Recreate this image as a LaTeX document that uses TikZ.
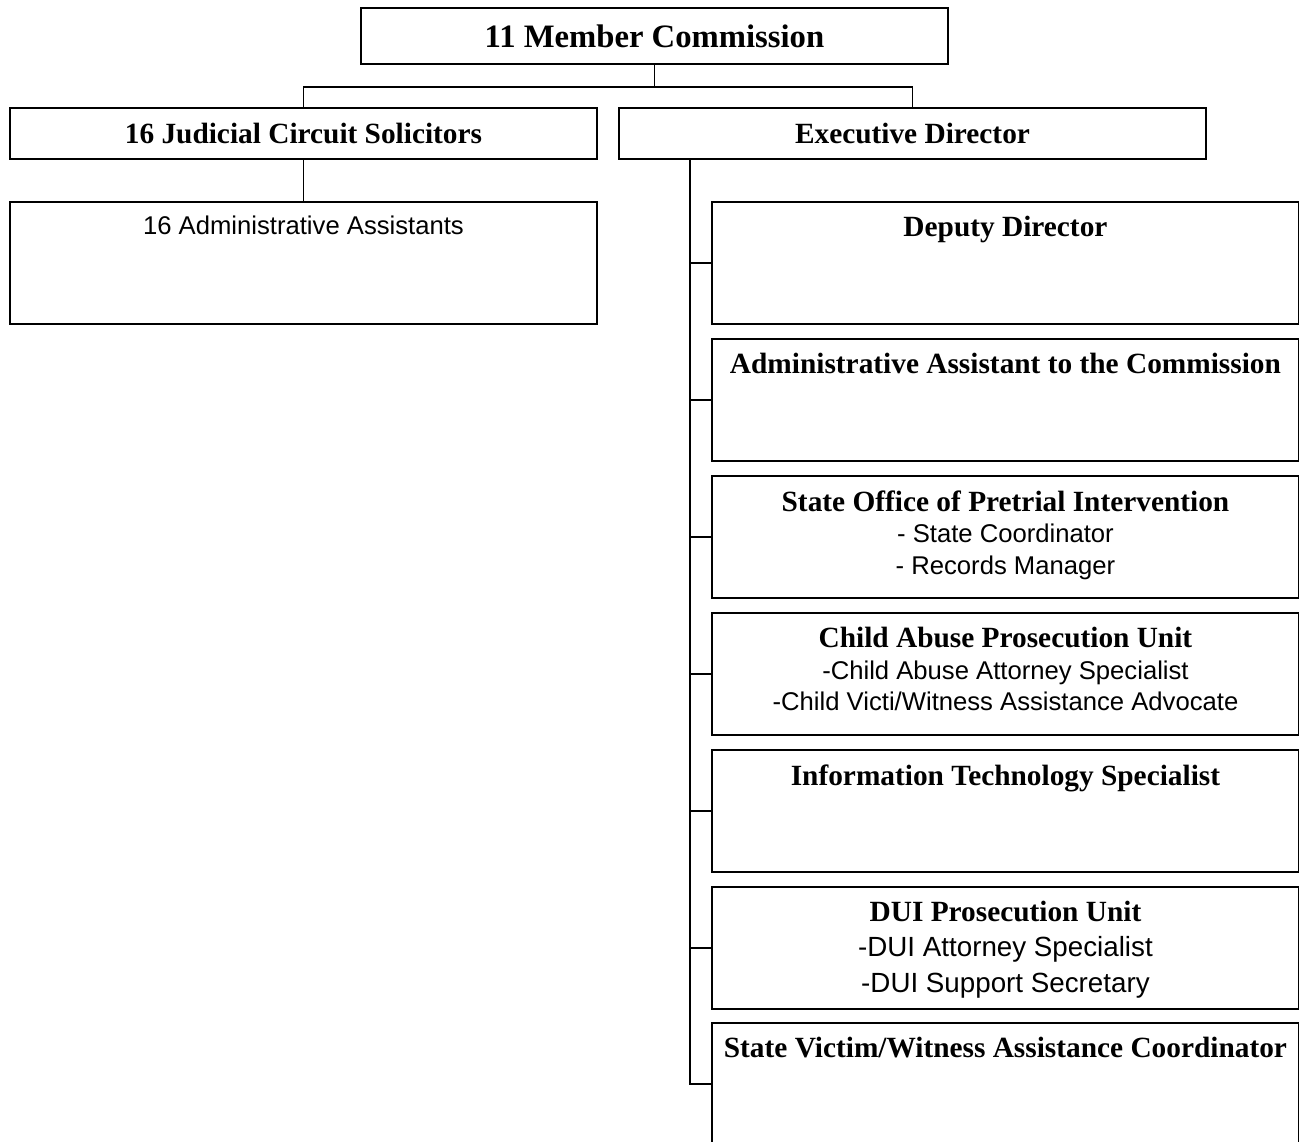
\documentclass[tikz,border=0pt]{standalone}
\usepackage{fontspec}
\setmainfont{Liberation Serif}
\setsansfont{Liberation Sans}
\usetikzlibrary{positioning}

\newcommand{\topfont}{\rmfamily\bfseries\fontsize{18.6}{20}\selectfont}
\newcommand{\hdfont}{\rmfamily\bfseries\fontsize{16.7}{18}\selectfont}
\newcommand{\subfont}{\sffamily\fontsize{14.6}{18}\selectfont}
\newcommand{\bigsubfont}{\sffamily\fontsize{15.8}{20}\selectfont}

\begin{document}
\begin{tikzpicture}[x=0.02cm, y=-0.02cm, line width=1.1pt,
    head/.style={draw, anchor=north west, inner sep=0pt, minimum width=587*0.02cm, minimum height=51*0.02cm, font=\hdfont},
    unit/.style={draw, anchor=north west, inner sep=0pt, minimum width=587*0.02cm, minimum height=122*0.02cm},
    unittext/.style={anchor=north, align=center, inner sep=0pt, yshift=-8.2pt, font=\subfont}]
    \useasboundingbox (0,0) rectangle (1299,1142);
    \clip (0,0) rectangle (1299,1142);

    % Commission at the top
    \node[head, minimum height=56*0.02cm, font=\topfont] (comm) at (360,7) {11 Member Commission};

    % Second row
    \node[head] (solic) at (9,107) {16 Judicial Circuit Solicitors};
    \node[head] (exec) at (618,107) {Executive Director};

    % Under the solicitors
    \node[unit, label={[unittext]north:{16 Administrative Assistants}}] (assist) at (9,201) {};

    % Under the executive director
    \node[unit, label={[unittext]north:{\hdfont Deputy Director}}] (deputy) at (711,201) {};
    \node[unit, label={[unittext]north:{\hdfont Administrative Assistant to the Commission}}] (admin) at (711,338) {};
    \node[unit, label={[unittext]north:{\hdfont State Office of Pretrial Intervention\\- State Coordinator\\- Records Manager}}] (pti) at (711,475) {};
    \node[unit, label={[unittext]north:{\hdfont Child Abuse Prosecution Unit\\-Child Abuse Attorney Specialist\\-Child Victi/Witness Assistance Advocate}}] (child) at (711,612) {};
    \node[unit, label={[unittext]north:{\hdfont Information Technology Specialist}}] (infotech) at (711,749) {};
    \node[unit, label={[unittext, font=\bigsubfont]north:{\hdfont DUI Prosecution Unit\\-DUI Attorney Specialist\\-DUI Support Secretary}}] (dui) at (711,886) {};
    \node[unit, label={[unittext]north:{\hdfont State Victim/Witness Assistance Coordinator}}] (victim) at (711,1022) {};

    % Connectors
    \draw (comm.south) -- ++(0,22) -| (solic.north);
    \draw (comm.south) -- ++(0,22) -| (exec.north);
    \draw (solic.south) -- (assist.north);
    \coordinate (spine) at ([xshift=72*0.02cm]exec.south west);
    \draw (spine) |- (victim.west);
    \draw (spine |- deputy.west) -- (deputy.west);
    \draw (spine |- admin.west) -- (admin.west);
    \draw (spine |- pti.west) -- (pti.west);
    \draw (spine |- child.west) -- (child.west);
    \draw (spine |- infotech.west) -- (infotech.west);
    \draw (spine |- dui.west) -- (dui.west);
\end{tikzpicture}
\end{document}
